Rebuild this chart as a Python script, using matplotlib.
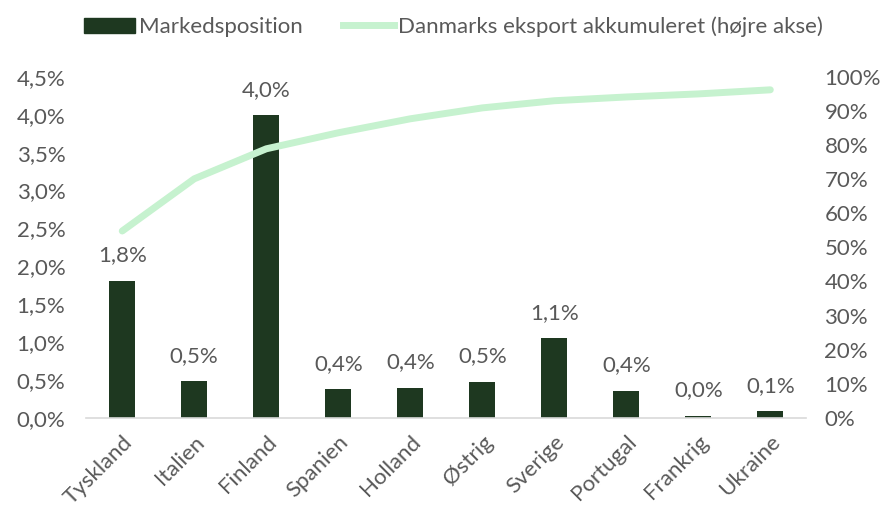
import matplotlib.pyplot as plt
from matplotlib.ticker import FuncFormatter
from matplotlib.lines import Line2D
from matplotlib.patches import Patch

countries = ["Tyskland", "Italien", "Finland", "Spanien", "Holland",
             "Østrig", "Sverige", "Portugal", "Frankrig", "Ukraine"]
market_pos = [1.81, 0.49, 4.00, 0.38, 0.40, 0.48, 1.05, 0.36, 0.03, 0.09]
bar_labels = ["1,8%", "0,5%", "4,0%", "0,4%", "0,4%", "0,5%", "1,1%", "0,4%", "0,0%", "0,1%"]
export_acc = [54.8, 70.1, 78.9, 83.6, 87.7, 90.9, 93.0, 94.1, 95.0, 96.2]

bar_color = "#1e3820"
line_color = "#c6f2cf"
text_color = "#595959"

plt.rcParams["font.family"] = ["Lato", "DejaVu Sans"]
FS = 16

fig = plt.figure(figsize=(8.89, 5.09), dpi=100)
ax = fig.add_axes([0.097, 0.179, 0.81, 0.67])
ax2 = ax.twinx()

x = list(range(len(countries)))
ax.bar(x, market_pos, width=0.36, color=bar_color, zorder=2)
for xi, v, lab in zip(x, market_pos, bar_labels):
    ax.text(xi, v + 0.2, lab, ha="center", va="bottom", fontsize=FS,
            color=text_color)

ax2.plot(x, export_acc, color=line_color, linewidth=5, solid_capstyle="round", zorder=3)

ax.set_xlim(-0.5, len(countries) - 0.5)
ax.set_ylim(0, 4.5)
ax.set_yticks([i * 0.5 for i in range(10)])
ax.yaxis.set_major_formatter(FuncFormatter(lambda v, p: f"{v:.1f}%".replace(".", ",")))
ax2.set_ylim(0, 100)
ax2.set_yticks(range(0, 101, 10))
ax2.yaxis.set_major_formatter(FuncFormatter(lambda v, p: f"{int(v)}%"))

ax.set_xticks(x)
ax.set_xticklabels(countries, rotation=45, ha="right", rotation_mode="anchor")

for a in (ax, ax2):
    for s in a.spines.values():
        s.set_visible(False)
    a.tick_params(length=0, labelsize=FS, labelcolor=text_color, pad=8)
ax.spines["bottom"].set_visible(True)
ax.spines["bottom"].set_color("#d9d9d9")
ax.spines["bottom"].set_linewidth(1.2)
ax.tick_params(axis="x", pad=10)
ax.tick_params(axis="y", pad=15)
ax2.tick_params(axis="y", pad=13)

handles = [Patch(color=bar_color), Line2D([0], [0], color=line_color, linewidth=5)]
leg = fig.legend(handles, ["Markedsposition", "Danmarks eksport akkumuleret (højre akse)"],
                 loc="center", bbox_to_anchor=(0.51, 0.947), ncol=2, frameon=False,
                 fontsize=FS, handlelength=2.3, handletextpad=0.2, columnspacing=1.8)
for t in leg.get_texts():
    t.set_color(text_color)

fig.savefig("out.png", dpi=100)
